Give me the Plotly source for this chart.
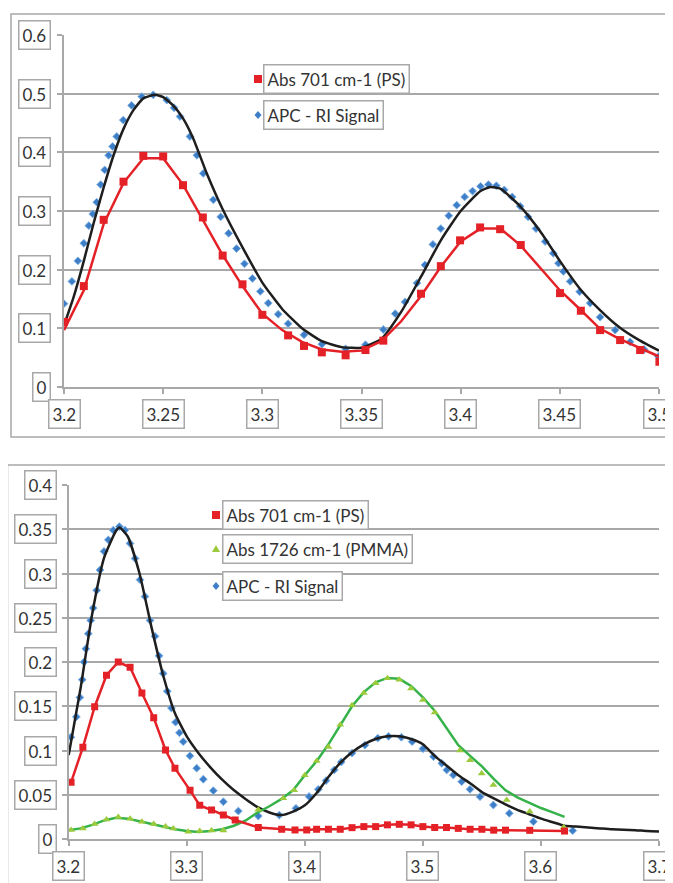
import plotly.graph_objects as go

# page pixel geometry (reference image is 673x883; browser body has an 8px margin)
PAGE_W, PAGE_H = 673, 883
OFF = 8
W, H = PAGE_W - OFF, PAGE_H - OFF

# ---------------- Top panel data ----------------
top_x_ticks = [3.2, 3.25, 3.3, 3.35, 3.4, 3.45, 3.5]
top_x_labels = ["3.2", "3.25", "3.3", "3.35", "3.4", "3.45", "3.5"]
top_y_ticks = [0, 0.1, 0.2, 0.3, 0.4, 0.5, 0.6]
top_y_labels = ["0", "0.1", "0.2", "0.3", "0.4", "0.5", "0.6"]

top_ps_x = [3.200, 3.210, 3.220, 3.230, 3.240, 3.250, 3.260, 3.270, 3.280, 3.290,
            3.300, 3.313, 3.321, 3.330, 3.342, 3.352, 3.361, 3.380, 3.390, 3.3997,
            3.4098, 3.4199, 3.4303, 3.4501, 3.4606, 3.4703, 3.4804, 3.4905, 3.5002]
top_ps_y = [0.111, 0.172, 0.285, 0.350, 0.394, 0.393, 0.344, 0.289, 0.224, 0.175,
            0.123, 0.088, 0.070, 0.059, 0.054, 0.063, 0.079, 0.159, 0.206, 0.250,
            0.272, 0.269, 0.242, 0.160, 0.130, 0.097, 0.080, 0.063, 0.043]

top_ps_line_x = [3.20, 3.21, 3.22, 3.23, 3.24, 3.25, 3.26, 3.27, 3.28, 3.29, 3.30,
                 3.31, 3.32, 3.33, 3.34, 3.35, 3.36, 3.37, 3.38, 3.39, 3.40, 3.41,
                 3.42, 3.43, 3.44, 3.45, 3.46, 3.47, 3.48, 3.49, 3.50]
top_ps_line_y = [0.097, 0.165, 0.278, 0.348, 0.390, 0.390, 0.345, 0.285, 0.225, 0.172, 0.125,
                 0.097, 0.077, 0.064, 0.060, 0.062, 0.078, 0.112, 0.155, 0.205, 0.248, 0.270,
                 0.270, 0.242, 0.203, 0.165, 0.133, 0.100, 0.082, 0.067, 0.052]

top_ri_line_x = [3.200, 3.205, 3.210, 3.215, 3.220, 3.225, 3.230, 3.235, 3.240, 3.246,
                 3.250, 3.255, 3.260, 3.265, 3.272, 3.280, 3.290, 3.300, 3.310, 3.320,
                 3.330, 3.340, 3.350, 3.360, 3.370, 3.380, 3.390, 3.400, 3.410,
                 3.415, 3.420, 3.430, 3.440, 3.450, 3.460, 3.470, 3.480, 3.490, 3.500]
top_ri_line_y = [0.105, 0.155, 0.215, 0.280, 0.340, 0.395, 0.440, 0.472, 0.492, 0.498,
                 0.494, 0.480, 0.458, 0.425, 0.364, 0.303, 0.238, 0.178, 0.133, 0.100,
                 0.078, 0.068, 0.067, 0.082, 0.128, 0.188, 0.250, 0.300, 0.334,
                 0.341, 0.338, 0.308, 0.266, 0.215, 0.168, 0.132, 0.102, 0.080, 0.062]

top_ri_x = [3.200, 3.204, 3.207, 3.210, 3.2125, 3.2145, 3.2165, 3.2185, 3.2205, 3.2225,
            3.2245, 3.2266, 3.2299, 3.2341, 3.2392, 3.2450, 3.2518, 3.2555, 3.2585, 3.2635,
            3.2670, 3.2702, 3.2753, 3.279, 3.283, 3.287, 3.291, 3.295, 3.299, 3.303,
            3.308, 3.313, 3.321, 3.330, 3.342, 3.352, 3.361, 3.367, 3.372, 3.378,
            3.382, 3.386, 3.390, 3.394, 3.398, 3.402, 3.406, 3.410, 3.414, 3.418,
            3.422, 3.426, 3.430, 3.434, 3.438, 3.4426, 3.4467, 3.4493, 3.4518, 3.4552,
            3.4600, 3.4653, 3.4703, 3.4779, 3.4854, 3.4925, 3.4997]
top_ri_y = [0.142, 0.180, 0.215, 0.245, 0.275, 0.295, 0.315, 0.345, 0.370, 0.395,
            0.410, 0.427, 0.455, 0.480, 0.495, 0.498, 0.489, 0.476, 0.461, 0.427,
            0.395, 0.364, 0.319, 0.290, 0.262, 0.236, 0.210, 0.185, 0.163, 0.143,
            0.124, 0.108, 0.089, 0.073, 0.065, 0.072, 0.098, 0.125, 0.145, 0.177,
            0.208, 0.243, 0.270, 0.292, 0.310, 0.324, 0.334, 0.342, 0.345, 0.343,
            0.336, 0.324, 0.308, 0.290, 0.270, 0.248, 0.228, 0.211, 0.197, 0.180,
            0.1625, 0.143, 0.119, 0.097, 0.077, 0.064, 0.052]

# ---------------- Bottom panel data ----------------
bot_x_ticks = [3.2, 3.3, 3.4, 3.5, 3.6, 3.7]
bot_x_labels = ["3.2", "3.3", "3.4", "3.5", "3.6", "3.7"]
bot_y_ticks = [0, 0.05, 0.1, 0.15, 0.2, 0.25, 0.3, 0.35, 0.4]
bot_y_labels = ["0", "0.05", "0.1", "0.15", "0.2", "0.25", "0.3", "0.35", "0.4"]

bot_ps_x = [3.202, 3.212, 3.222, 3.232, 3.242, 3.252, 3.262, 3.272, 3.282, 3.290,
            3.3028, 3.311, 3.321, 3.331, 3.341, 3.3606, 3.3804, 3.3917, 3.4016, 3.41,
            3.42, 3.43, 3.44, 3.45, 3.46, 3.47, 3.48, 3.49, 3.50, 3.51,
            3.52, 3.53, 3.54, 3.55, 3.56, 3.57, 3.5905, 3.62]
bot_ps_y = [0.064, 0.1036, 0.1495, 0.185, 0.200, 0.194, 0.165, 0.137, 0.1006, 0.080,
            0.055, 0.038, 0.0328, 0.027, 0.0215, 0.013, 0.011, 0.0102, 0.0102, 0.011,
            0.011, 0.011, 0.0128, 0.014, 0.014, 0.016, 0.0166, 0.016, 0.014, 0.013,
            0.013, 0.012, 0.011, 0.011, 0.010, 0.010, 0.0098, 0.009]

bot_pmma_x = [3.202, 3.212, 3.222, 3.232, 3.242, 3.252, 3.262, 3.272, 3.282, 3.2886,
              3.3013, 3.311, 3.321, 3.331, 3.3606, 3.3818, 3.391, 3.40, 3.41, 3.42,
              3.43, 3.44, 3.45, 3.46, 3.47, 3.48, 3.49, 3.50, 3.51, 3.5313,
              3.5399, 3.5498, 3.5597, 3.571, 3.5905, 3.6193]
bot_pmma_y = [0.0102, 0.012, 0.017, 0.022, 0.025, 0.023, 0.0196, 0.017, 0.014, 0.012,
              0.0083, 0.009, 0.0096, 0.0096, 0.033, 0.046, 0.055, 0.072, 0.088, 0.104,
              0.129, 0.151, 0.165, 0.176, 0.1815, 0.180, 0.170, 0.157, 0.143, 0.100,
              0.089, 0.074, 0.061, 0.044, 0.031, 0.0132]

bot_pmma_line_x = [3.20, 3.21, 3.22, 3.23, 3.24, 3.25, 3.26, 3.27, 3.28, 3.29, 3.30,
                   3.31, 3.32, 3.33, 3.34, 3.35, 3.36, 3.37, 3.38, 3.39, 3.40, 3.41,
                   3.42, 3.43, 3.44, 3.45, 3.46, 3.47, 3.48, 3.49, 3.50, 3.51, 3.52,
                   3.53, 3.54, 3.55, 3.56, 3.57, 3.58, 3.59, 3.60, 3.61, 3.62]
bot_pmma_line_y = [0.010, 0.012, 0.016, 0.021, 0.024, 0.023, 0.020, 0.017, 0.014, 0.011, 0.009,
                   0.008, 0.009, 0.011, 0.015, 0.021, 0.030, 0.037, 0.045, 0.055, 0.072, 0.088,
                   0.107, 0.129, 0.150, 0.166, 0.177, 0.182, 0.181, 0.173, 0.160, 0.145, 0.126,
                   0.106, 0.094, 0.082, 0.068, 0.055, 0.047, 0.041, 0.035, 0.030, 0.025]

bot_ri_line_x = [3.20, 3.21, 3.22, 3.23, 3.24, 3.243, 3.25, 3.26, 3.27, 3.28, 3.29,
                 3.30, 3.31, 3.32, 3.33, 3.34, 3.35, 3.36, 3.37, 3.38, 3.39, 3.40,
                 3.41, 3.42, 3.43, 3.44, 3.45, 3.46, 3.47, 3.48, 3.49, 3.50, 3.51,
                 3.52, 3.53, 3.54, 3.55, 3.56, 3.57, 3.58, 3.59, 3.60, 3.61, 3.62,
                 3.63, 3.64, 3.65, 3.66, 3.67, 3.68, 3.69, 3.70]
bot_ri_line_y = [0.095, 0.170, 0.255, 0.318, 0.348, 0.352, 0.342, 0.300, 0.240, 0.185, 0.142,
                 0.116, 0.097, 0.081, 0.067, 0.055, 0.045, 0.036, 0.030, 0.027, 0.031, 0.038,
                 0.052, 0.070, 0.086, 0.098, 0.107, 0.113, 0.116, 0.116, 0.113, 0.107, 0.094,
                 0.083, 0.072, 0.063, 0.053, 0.046, 0.039, 0.033, 0.028, 0.023, 0.019, 0.015,
                 0.014, 0.013, 0.012, 0.011, 0.0105, 0.010, 0.009, 0.0085]

bot_ri_x = [3.2018, 3.2065, 3.2095, 3.2115, 3.2130, 3.2145, 3.2166, 3.2187, 3.2208, 3.2237,
            3.2265, 3.2299, 3.2336, 3.2378, 3.2429, 3.2477, 3.2519, 3.2562, 3.2604, 3.2646,
            3.2689, 3.2731, 3.2765, 3.2800, 3.2835, 3.2870, 3.2905, 3.2938, 3.2970, 3.3027,
            3.3084, 3.3140, 3.3225, 3.3310, 3.3437, 3.3606, 3.3784, 3.3925, 3.4036, 3.4114,
            3.4180, 3.4250, 3.4309, 3.4400, 3.4509, 3.4618, 3.4709, 3.4818, 3.4909, 3.5000,
            3.5090, 3.5160, 3.5202, 3.5258, 3.5329, 3.5399, 3.5484, 3.5597, 3.5732, 3.5936,
            3.6269]
bot_ri_y = [0.115, 0.138, 0.160, 0.180, 0.200, 0.215, 0.232, 0.247, 0.261, 0.281,
            0.304, 0.325, 0.338, 0.349, 0.353, 0.349, 0.334, 0.317, 0.293, 0.274,
            0.247, 0.229, 0.207, 0.187, 0.167, 0.148, 0.132, 0.120, 0.110, 0.094,
            0.080, 0.0675, 0.0546, 0.0421, 0.0316, 0.026, 0.027, 0.0347, 0.048, 0.0561,
            0.066, 0.078, 0.087, 0.097, 0.106, 0.114, 0.116, 0.115, 0.110, 0.102,
            0.093, 0.0855, 0.078, 0.0723, 0.0648, 0.0561, 0.0478, 0.0384, 0.029, 0.0196,
            0.0094]

legend_top = ["Abs 701 cm-1 (PS)", "APC - RI Signal"]
legend_bot = ["Abs 701 cm-1 (PS)", "Abs 1726 cm-1 (PMMA)", "APC - RI Signal"]

# ---------------- Styles ----------------
RED = "#E42127"
BLACK = "#1E1E1E"
BLUE = "#3D7EC6"
GREEN = "#35B249"
GREEN_MK = "#9BCB3C"
GRID = "#A8A8A8"
TXT = "#333333"
FONT = "Lato, Noto Sans, sans-serif"
FS = 17


def pxx(x):
    """page pixel x -> paper fraction"""
    return (x - OFF) / W


def pyy(y):
    """page pixel y -> paper fraction"""
    return 1 - (y - OFF) / H


fig = go.Figure()

# top panel traces
fig.add_trace(go.Scatter(x=top_ri_x, y=top_ri_y, mode="markers", xaxis="x", yaxis="y",
                         marker=dict(symbol="diamond", size=6, color=BLUE,
                                     line=dict(width=1, color="#7FB2E5")),
                         name=legend_top[1], showlegend=False))
fig.add_trace(go.Scatter(x=top_ri_line_x, y=top_ri_line_y, mode="lines", xaxis="x", yaxis="y",
                         line=dict(color=BLACK, width=2.5, shape="spline", smoothing=0.5),
                         showlegend=False))
fig.add_trace(go.Scatter(x=top_ps_line_x, y=top_ps_line_y, mode="lines", xaxis="x", yaxis="y",
                         line=dict(color=RED, width=2.5), showlegend=False))
fig.add_trace(go.Scatter(x=top_ps_x, y=top_ps_y, mode="markers", xaxis="x", yaxis="y",
                         marker=dict(symbol="square", size=8, color=RED),
                         name=legend_top[0], showlegend=False))

# bottom panel traces
fig.add_trace(go.Scatter(x=bot_ri_x, y=bot_ri_y, mode="markers", xaxis="x2", yaxis="y2",
                         marker=dict(symbol="diamond", size=6, color=BLUE,
                                     line=dict(width=1, color="#7FB2E5")),
                         name=legend_bot[2], showlegend=False))
fig.add_trace(go.Scatter(x=bot_ri_line_x, y=bot_ri_line_y, mode="lines", xaxis="x2", yaxis="y2",
                         line=dict(color=BLACK, width=2.5, shape="spline", smoothing=0.5),
                         showlegend=False))
fig.add_trace(go.Scatter(x=bot_pmma_line_x, y=bot_pmma_line_y, mode="lines", xaxis="x2", yaxis="y2",
                         line=dict(color=GREEN, width=2.5), showlegend=False))
fig.add_trace(go.Scatter(x=bot_pmma_x, y=bot_pmma_y, mode="markers", xaxis="x2", yaxis="y2",
                         marker=dict(symbol="triangle-up", size=7, color=GREEN_MK),
                         name=legend_bot[1], showlegend=False))
fig.add_trace(go.Scatter(x=bot_ps_x, y=bot_ps_y, mode="lines+markers", xaxis="x2", yaxis="y2",
                         line=dict(color=RED, width=2.5),
                         marker=dict(symbol="square", size=7, color=RED),
                         name=legend_bot[0], showlegend=False))

axis_common = dict(showline=True, linecolor=GRID, linewidth=1.5, ticks="outside",
                   tickcolor=GRID, tickwidth=1.5, ticklen=5, showticklabels=False,
                   zeroline=False)

fig.update_layout(
    width=W, height=H,
    margin=dict(l=0, r=0, t=0, b=0),
    paper_bgcolor="white", plot_bgcolor="white",
    showlegend=False,
    font=dict(family=FONT, size=FS, color=TXT),
    xaxis=dict(domain=[pxx(64), pxx(659)], range=[3.2, 3.5], anchor="y",
               tickvals=top_x_ticks, showgrid=False, **axis_common),
    yaxis=dict(domain=[pyy(387), pyy(35)], range=[0, 0.6], anchor="x",
               tickvals=top_y_ticks, showgrid=True, gridcolor=GRID, gridwidth=1.5,
               **axis_common),
    xaxis2=dict(domain=[pxx(68.7), pxx(659)], range=[3.2, 3.7], anchor="y2",
                tickvals=bot_x_ticks, showgrid=False, **axis_common),
    yaxis2=dict(domain=[pyy(839), pyy(485)], range=[0, 0.4], anchor="x2",
                tickvals=bot_y_ticks, showgrid=True, gridcolor=GRID, gridwidth=1.5,
                **axis_common),
)

ann = []
shapes = []
box = dict(showarrow=False, bordercolor=GRID, borderwidth=1.5, borderpad=3,
           bgcolor="white", font=dict(family=FONT, size=FS, color=TXT))

for v, t in zip(top_y_ticks, top_y_labels):
    ann.append(dict(xref="paper", x=pxx(51), xanchor="right", yref="y", y=v,
                    yanchor="middle", text=t, **box))
for v, t in zip(top_x_ticks, top_x_labels):
    ann.append(dict(xref="x", x=v, xanchor="center", yref="paper", y=pyy(414),
                    yanchor="middle", text=t, **box))
for v, t in zip(bot_y_ticks, bot_y_labels):
    ann.append(dict(xref="paper", x=pxx(57), xanchor="right", yref="y2", y=v,
                    yanchor="middle", text=t, **box))
for v, t in zip(bot_x_ticks, bot_x_labels):
    ann.append(dict(xref="x2", x=v, xanchor="center", yref="paper", y=pyy(866),
                    yanchor="middle", text=t, **box))

# legends (each entry boxed, Excel style)
leg_top_pos = [79, 115]
leg_bot_pos = [515, 549, 586]
for t, yc in zip(legend_top, leg_top_pos):
    ann.append(dict(xref="paper", x=pxx(263), xanchor="left", yref="paper", y=pyy(yc),
                    yanchor="middle", text=t, **box))
for t, yc in zip(legend_bot, leg_bot_pos):
    ann.append(dict(xref="paper", x=pxx(222), xanchor="left", yref="paper", y=pyy(yc),
                    yanchor="middle", text=t, **box))


def sq(cx, cy, s, color):
    shapes.append(dict(type="rect", xref="paper", yref="paper",
                       x0=pxx(cx - s / 2), x1=pxx(cx + s / 2),
                       y0=pyy(cy + s / 2), y1=pyy(cy - s / 2),
                       fillcolor=color, line=dict(width=0)))


def poly(pts, color):
    path = "M " + " L ".join(f"{pxx(a):.5f},{pyy(b):.5f}" for a, b in pts) + " Z"
    shapes.append(dict(type="path", xref="paper", yref="paper", path=path,
                       fillcolor=color, line=dict(width=0)))


sq(258, 79, 8, RED)
poly([(258, 111), (261.5, 115), (258, 119), (254.5, 115)], BLUE)
sq(216, 515, 8, RED)
poly([(216, 545), (220, 552), (212, 552)], GREEN_MK)
poly([(216, 582), (219.5, 586), (216, 590), (212.5, 586)], BLUE)

# panel frames (cut by the right / bottom edges as in the reference)
shapes.append(dict(type="rect", xref="paper", yref="paper", x0=pxx(11), x1=1.02,
                   y0=pyy(437), y1=pyy(14), line=dict(color=GRID, width=1.5)))
shapes.append(dict(type="rect", xref="paper", yref="paper", x0=pxx(7.5), x1=1.02,
                   y0=-0.02, y1=pyy(465), line=dict(color=GRID, width=1.5)))

fig.update_layout(annotations=ann, shapes=shapes)
fig.write_html("out.html")
